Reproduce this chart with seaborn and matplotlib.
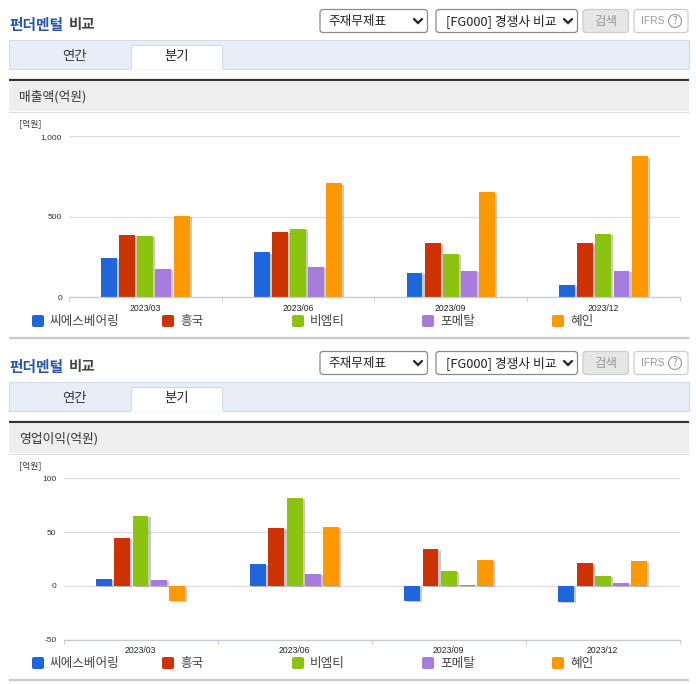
import numpy as np
import pandas as pd
import matplotlib
matplotlib.use("Agg")
import matplotlib.pyplot as plt
import matplotlib.patheffects as pe
from matplotlib.patches import Rectangle, FancyBboxPatch, Circle
import seaborn as sns

# -----------------------------
# data
# -----------------------------
periods = ["2023/03", "2023/06", "2023/09", "2023/12"]
companies = ["씨에스베어링", "흥국", "비엠티", "포메탈", "혜인"]
colors = ["#1F66DD", "#CC3300", "#8CC30F", "#A67BDC", "#FF9900"]

sales_csb = [246, 279, 152, 77]
sales_hk = [390, 408, 340, 340]
sales_bmt = [383, 427, 271, 396]
sales_fmt = [177, 190, 165, 165]
sales_hi = [508, 708, 652, 876]

profit_csb = [6.8, 20.7, -14.2, -14.8]
profit_hk = [44.7, 54, 34.6, 21.6]
profit_bmt = [65, 81.8, 14.2, 9.6]
profit_fmt = [5.9, 11.4, 1, 3.1]
profit_hi = [-14.2, 55, 24.4, 23.5]

sns.set_theme(style="white")
KR = ["Noto Sans CJK KR", "DejaVu Sans"]
plt.rcParams["font.family"] = KR

W, H = 696, 684
fig = plt.figure(figsize=(W / 100, H / 100), dpi=100, facecolor="white")

# page furniture is drawn in pixel coordinates on one full-size axes
ui = fig.add_axes([0, 0, 1, 1], zorder=0)
ui.set_xlim(0, W)
ui.set_ylim(H, 0)
ui.axis("off")


def box(x0, y0, x1, y1, face, edge="none", lw=0.8, round_px=0):
    if round_px:
        p = FancyBboxPatch((x0, y0), x1 - x0, y1 - y0, boxstyle=f"round,pad=0,rounding_size={round_px}",
                           facecolor=face, edgecolor=edge, linewidth=lw)
    else:
        p = Rectangle((x0, y0), x1 - x0, y1 - y0, facecolor=face, edgecolor=edge, linewidth=lw)
    ui.add_patch(p)


def chevron(x, y):
    ui.plot([x - 4, x, x + 4], [y - 2, y + 2, y - 2], color="#222222", lw=1.6, solid_joinstyle="miter")


def section(top, header, legend_y, rule_y):
    # title line
    ui.text(9, top + 25, "펀더멘털", fontsize=10.6, color="#2B56A8", weight="bold", va="center")
    ui.text(68.5, top + 25, "비교", fontsize=10.4, color="#444444", weight="bold", va="center")

    # selects and buttons
    box(320, top + 9.5, 427.5, top + 32.5, "white", "#8A8A8A", 0.9, 3)
    ui.text(328, top + 21.5, "주재무제표", fontsize=9.1, color="#222222", va="center")
    chevron(418, top + 21)
    box(436, top + 9.5, 577.5, top + 32.5, "white", "#8A8A8A", 0.9, 3)
    ui.text(446, top + 21.5, "[FG000] 경쟁사 비교", fontsize=9.2, color="#222222", va="center")
    chevron(568, top + 21)
    box(583, top + 9.5, 628.5, top + 32.5, "#E6E6E6", "#CCCCCC", 0.9, 3)
    ui.text(606, top + 21, "검색", fontsize=9, color="#999999", ha="center", va="center")
    box(634, top + 9.5, 688, top + 32.5, "white", "#CCCCCC", 0.9, 3)
    ui.text(641, top + 21, "IFRS", fontsize=7.4, color="#999999", va="center", family="Liberation Sans")
    ui.add_patch(Circle((675, top + 21), 6.5, facecolor="white", edgecolor="#999999", lw=0.8))
    ui.text(675, top + 21, "?", fontsize=7, color="#888888", ha="center", va="center")

    # tab strip
    box(9, top + 39.5, 688.5, top + 68.5, "#E6EEF8", "#D3DBE6")
    box(131, top + 44.5, 222, top + 69, "white", "#D3DBE6")
    ui.plot([131.5, 221.5], [top + 69, top + 69], color="white", lw=1.2)
    ui.text(74, top + 56, "연간", fontsize=9.6, color="#333333", ha="center", va="center")
    ui.text(177, top + 56, "분기", fontsize=9.6, color="#222222", ha="center", va="center")

    # header band
    box(9, top + 82, 689, top + 111, "#EEEEEE")
    ui.plot([9, 689], [top + 111.5, top + 111.5], color="#DEDEDE", lw=0.8)
    ui.plot([9, 689], [top + 80, top + 80], color="#333333", lw=1.6, solid_capstyle="butt")
    ui.text(19, top + 97, header, fontsize=9.2, color="#333333", va="center")
    ui.text(19.5, top + 124, "[억원]", fontsize=6.4, color="#333333", va="center")

    # legend row, one slot every 130 px
    for i, (name, col) in enumerate(zip(companies, colors)):
        x = 32 + 130 * i
        box(x, legend_y - 6, x + 12, legend_y + 6, col, round_px=2)
        ui.text(x + 18, legend_y + 1, name, fontsize=9.1, color="#444444", va="center")
    ui.plot([9, 689], [rule_y, rule_y], color="#C8C8C8", lw=1.6, solid_capstyle="butt")


def chart(series, left, top, right, bottom, ylim, yticks, bar_width):
    ax = fig.add_axes([left / W, 1 - bottom / H, (right - left) / W, (bottom - top) / H], zorder=1)
    ax.patch.set_alpha(0)

    df = pd.DataFrame({c: s for c, s in zip(companies, series)}, index=periods)
    df = df.rename_axis("period").reset_index().melt("period", var_name="company", value_name="value")
    sns.barplot(data=df, x="period", y="value", hue="company", order=periods, hue_order=companies,
                palette=colors, saturation=1, width=bar_width, gap=0.12, legend=False, linewidth=0, ax=ax)

    shadow = [pe.SimplePatchShadow(offset=(1.5, -0.8), shadow_rgbFace="#888888", alpha=0.45), pe.Normal()]
    for bar in ax.patches:
        bar.set_path_effects(shadow)

    ax.set_xlim(-0.5, 3.5)
    ax.set_ylim(*ylim)
    ax.set_xlabel("")
    ax.set_ylabel("")
    ax.set_yticks(yticks)
    ax.set_yticklabels([f"{v:,}" for v in yticks], family="Liberation Sans", fontsize=6, color="#333333")
    ax.set_xticks(range(len(periods)))
    ax.set_xticklabels(periods, family="Liberation Sans", fontsize=6.2, color="#222222")
    ax.set_xticks(np.arange(-0.5, 4), minor=True)
    ax.tick_params(axis="x", which="major", length=0, pad=4.5)
    ax.tick_params(axis="x", which="minor", length=3, width=0.7, color="#C3CAD8", bottom=True)
    ax.tick_params(axis="y", length=0, pad=5)
    ax.yaxis.grid(True, color="#DDDDDD", lw=0.9)
    ax.set_axisbelow(True)
    sns.despine(ax=ax, left=True)
    ax.spines["bottom"].set_color("#C3CAD8")
    ax.spines["bottom"].set_linewidth(0.9)
    return ax


section(0, "매출액(억원)", 321, 337.5)
section(342, "영업이익(억원)", 663, 679.7)

chart([sales_csb, sales_hk, sales_bmt, sales_fmt, sales_hi],
      69, 136.5, 679.7, 297.3, (0, 1000), [0, 500, 1000], 0.593)
chart([profit_csb, profit_hk, profit_bmt, profit_fmt, profit_hi],
      63.5, 478.3, 679.7, 639.7, (-50, 100), [-50, 0, 50, 100], 0.588)

fig.savefig("out.png", dpi=100)
